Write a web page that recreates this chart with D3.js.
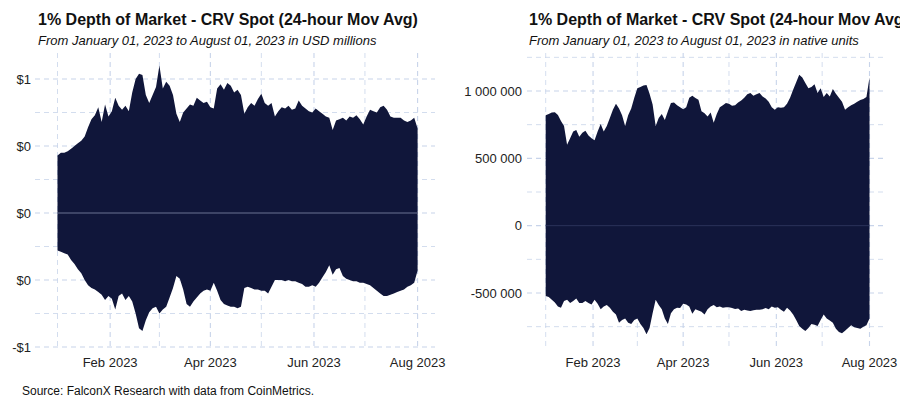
<!DOCTYPE html>
<html>
<head>
<meta charset="utf-8">
<script src="https://cdn.jsdelivr.net/npm/d3@7"></script>
<style>
  html, body { margin: 0; padding: 0; background: #fff; }
  svg { display: block; font-family: "Liberation Sans", Arial, sans-serif; }
</style>
</head>
<body>
<svg id="chart" width="900" height="400"></svg>
<script>
// ---------- DATA ----------
const startDate = "2023-01-01";
const stepDays = 2;

// Left panel: USD millions (bid side negative)
const usdUpper = [
  0.43,0.45,0.45,0.46,0.48,0.50,0.52,0.54,0.57,0.64,
  0.70,0.73,0.79,0.68,0.81,0.72,0.76,0.86,0.80,0.77,
  0.80,0.76,0.90,1.00,1.04,1.03,0.88,0.82,0.88,0.94,
  1.10,0.93,0.98,0.95,0.88,0.74,0.68,0.75,0.78,0.81,
  0.80,0.86,0.84,0.82,0.83,0.79,0.78,0.93,0.96,0.92,
  0.97,0.95,0.90,0.92,0.88,0.74,0.79,0.82,0.80,0.85,
  0.89,0.82,0.80,0.82,0.72,0.76,0.79,0.78,0.80,0.77,
  0.78,0.84,0.80,0.78,0.76,0.75,0.78,0.76,0.74,0.72,
  0.71,0.62,0.69,0.70,0.71,0.69,0.72,0.71,0.73,0.70,
  0.66,0.72,0.77,0.76,0.75,0.79,0.80,0.77,0.72,0.71,
  0.71,0.71,0.69,0.68,0.69,0.71,0.63
];
const usdLower = [
  -0.28,-0.29,-0.30,-0.31,-0.35,-0.38,-0.42,-0.45,-0.50,-0.54,
  -0.56,-0.57,-0.59,-0.61,-0.65,-0.62,-0.64,-0.72,-0.62,-0.60,
  -0.65,-0.62,-0.66,-0.75,-0.86,-0.88,-0.80,-0.74,-0.71,-0.70,
  -0.75,-0.72,-0.70,-0.63,-0.56,-0.47,-0.49,-0.57,-0.68,-0.70,
  -0.66,-0.63,-0.60,-0.58,-0.57,-0.58,-0.52,-0.58,-0.65,-0.68,
  -0.69,-0.70,-0.70,-0.71,-0.70,-0.56,-0.55,-0.56,-0.57,-0.57,
  -0.58,-0.58,-0.60,-0.55,-0.50,-0.50,-0.50,-0.51,-0.50,-0.51,
  -0.51,-0.52,-0.53,-0.55,-0.55,-0.54,-0.55,-0.52,-0.48,-0.44,
  -0.39,-0.46,-0.42,-0.41,-0.47,-0.49,-0.50,-0.51,-0.51,-0.52,
  -0.52,-0.53,-0.54,-0.56,-0.58,-0.60,-0.62,-0.62,-0.61,-0.60,
  -0.59,-0.58,-0.57,-0.55,-0.54,-0.52,-0.43
];

// Right panel: native units (CRV)
const nativeUpper = [
  820000,830000,840000,843000,822000,778000,740000,600000,650000,700000,
  710000,660000,690000,705000,670000,650000,635000,700000,755000,700000,
  740000,800000,860000,905000,870000,820000,740000,820000,870000,950000,
  1020000,1030000,1040000,1045000,980000,900000,740000,800000,830000,785000,
  850000,910000,915000,895000,880000,865000,880000,950000,965000,948000,
  935000,850000,835000,810000,840000,765000,830000,880000,895000,910000,
  905000,890000,895000,915000,930000,950000,975000,985000,965000,975000,
  985000,960000,945000,920000,880000,860000,880000,875000,880000,905000,
  950000,1010000,1065000,1120000,1100000,1060000,1020000,1030000,1050000,985000,
  1020000,955000,985000,960000,1015000,980000,950000,920000,860000,880000,
  895000,905000,920000,933000,940000,955000,1100000
];
const nativeLower = [
  -522000,-530000,-550000,-570000,-600000,-610000,-560000,-550000,-574000,-560000,
  -540000,-575000,-575000,-560000,-575000,-585000,-550000,-580000,-620000,-600000,
  -590000,-610000,-640000,-660000,-720000,-700000,-690000,-720000,-731000,-700000,
  -690000,-730000,-760000,-806000,-760000,-650000,-550000,-590000,-620000,-690000,
  -730000,-650000,-620000,-610000,-612000,-580000,-585000,-600000,-655000,-620000,
  -630000,-640000,-660000,-620000,-600000,-590000,-605000,-600000,-610000,-605000,
  -605000,-612000,-619000,-615000,-634000,-625000,-630000,-634000,-628000,-625000,
  -625000,-620000,-612000,-620000,-600000,-610000,-605000,-625000,-640000,-610000,
  -630000,-660000,-700000,-745000,-765000,-783000,-760000,-731000,-735000,-745000,
  -700000,-660000,-690000,-705000,-720000,-765000,-790000,-798000,-780000,-760000,
  -740000,-755000,-760000,-765000,-750000,-740000,-690000
];

const xTickDates = ["2023-02-01","2023-04-01","2023-06-01","2023-08-01"];
const xTickLabels = ["Feb 2023","Apr 2023","Jun 2023","Aug 2023"];
const xMinorDates = ["2023-01-01","2023-03-02","2023-05-01","2023-07-01"];

const usdTicks = [1, 0.5, 0, -0.5, -1];
const usdTickLabels = ["$1","$0","$0","$0","-$1"];
const usdMinor = [0.75, 0.25, -0.25, -0.75];

const nativeTicks = [1000000, 500000, 0, -500000];
const nativeTickLabels = ["1 000 000","500 000","0","-500 000"];
const nativeMinor = [1250000, 750000, 250000, -250000, -750000];

const titleText = "1% Depth of Market - CRV Spot (24-hour Mov Avg)";
const subLeft = "From January 01, 2023 to August 01, 2023 in USD millions";
const subRight = "From January 01, 2023 to August 01, 2023 in native units";
const sourceText = "Source: FalconX Research with data from CoinMetrics.";

// ---------- DRAW ----------
const parse = d3.utcParse("%Y-%m-%d");
const t0 = parse(startDate);
const svg = d3.select("#chart");
svg.append("rect").attr("width", 900).attr("height", 400).attr("fill", "#fff");

const FILL = "#10163a";
const GRID = "#c8d4ea";

function panel(cfg) {
  const dates = cfg.upper.map((_, i) => d3.utcDay.offset(t0, i * stepDays));
  const x = d3.scaleUtc().domain([t0, dates[dates.length - 1]]).range(cfg.xr);
  const y = d3.scaleLinear().domain(cfg.yd).range(cfg.yr);
  const g = svg.append("g");

  // minor grid
  g.selectAll(".hmin").data(cfg.minor.filter(v => y(v) >= cfg.top && y(v) <= cfg.bottom))
    .join("line").attr("x1", cfg.left).attr("x2", cfg.right)
    .attr("y1", d => y(d)).attr("y2", d => y(d))
    .attr("stroke", GRID).attr("stroke-width", 0.8).attr("stroke-dasharray", "5,4");
  g.selectAll(".vmin").data(xMinorDates.map(parse))
    .join("line").attr("x1", d => x(d)).attr("x2", d => x(d))
    .attr("y1", cfg.top).attr("y2", cfg.bottom)
    .attr("stroke", GRID).attr("stroke-width", 0.8).attr("stroke-dasharray", "5,4");
  // major grid
  g.selectAll(".hmaj").data(cfg.ticks)
    .join("line").attr("x1", cfg.left).attr("x2", cfg.right)
    .attr("y1", d => y(d)).attr("y2", d => y(d))
    .attr("stroke", GRID).attr("stroke-width", 1.1).attr("stroke-dasharray", "5,4");
  g.selectAll(".vmaj").data(xTickDates.map(parse))
    .join("line").attr("x1", d => x(d)).attr("x2", d => x(d))
    .attr("y1", cfg.top).attr("y2", cfg.bottom)
    .attr("stroke", GRID).attr("stroke-width", 1.1).attr("stroke-dasharray", "5,4");

  // area
  const area = d3.area()
    .x((d, i) => x(dates[i]))
    .y0((d, i) => y(cfg.lower[i]))
    .y1((d, i) => y(cfg.upper[i]));
  g.append("path").datum(cfg.upper).attr("d", area).attr("fill", FILL);

  // zero line
  g.append("line").attr("x1", x(t0)).attr("x2", x(dates[dates.length - 1]))
    .attr("y1", y(0)).attr("y2", y(0))
    .attr("stroke", cfg.zeroColor).attr("stroke-width", 1);

  // y labels
  g.selectAll(".yl").data(cfg.ticks)
    .join("text").attr("x", cfg.ylx).attr("y", d => y(d)).attr("dy", "0.36em")
    .attr("text-anchor", "end").attr("font-size", 13).attr("fill", "#222")
    .text((d, i) => cfg.tickLabels[i]);
  // x labels
  g.selectAll(".xl").data(xTickDates.map(parse))
    .join("text").attr("x", d => x(d)).attr("y", 366.5)
    .attr("text-anchor", "middle").attr("font-size", 13).attr("fill", "#222")
    .text((d, i) => xTickLabels[i]);

  // titles
  svg.append("text").attr("x", cfg.tx).attr("y", 25).attr("font-size", 16)
    .attr("font-weight", "bold").attr("fill", "#111").text(titleText);
  svg.append("text").attr("x", cfg.tx).attr("y", 45).attr("font-size", 13)
    .attr("font-style", "italic").attr("fill", "#111").text(cfg.sub);
}

panel({
  upper: usdUpper, lower: usdLower,
  xr: [57.5, 417.6], yd: [-1, 1], yr: [347, 79],
  left: 35, right: 435, top: 53, bottom: 350,
  ticks: usdTicks, tickLabels: usdTickLabels, minor: usdMinor,
  ylx: 31, tx: 38, sub: subLeft, zeroColor: "#6b7392"
});
panel({
  upper: nativeUpper, lower: nativeLower,
  xr: [545.7, 869.5], yd: [-500000, 1000000], yr: [293, 91],
  left: 527, right: 886, top: 53, bottom: 346,
  ticks: nativeTicks, tickLabels: nativeTickLabels, minor: nativeMinor,
  ylx: 522, tx: 529, sub: subRight, zeroColor: "#2b3259"
});

svg.append("text").attr("x", 22).attr("y", 395).attr("font-size", 12)
  .attr("fill", "#111").text(sourceText);
</script>
</body>
</html>
